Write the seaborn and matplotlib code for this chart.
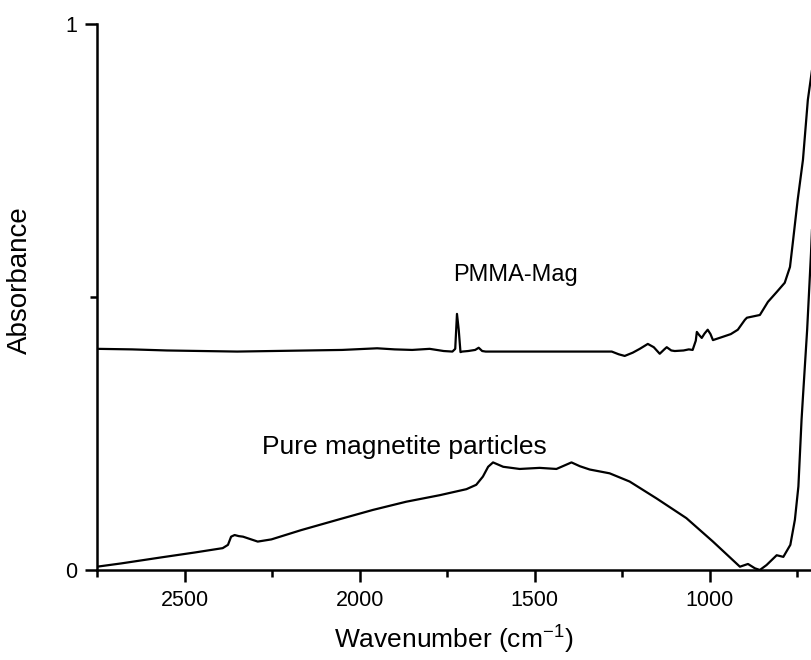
import numpy as np
import pandas as pd
import seaborn as sns
import matplotlib
matplotlib.use("Agg")
import matplotlib.pyplot as plt
from matplotlib.ticker import MultipleLocator, FixedLocator

# PMMA-Mag spectrum (wavenumber, absorbance)
pmma_wn = [2750, 2650, 2550, 2450, 2350, 2250, 2150, 2050, 1950, 1900, 1850, 1800,
           1760, 1735, 1727, 1722, 1717, 1712, 1707, 1690, 1670, 1660, 1650, 1640,
           1500, 1400, 1280, 1260, 1243, 1220, 1200, 1177, 1160, 1143, 1130, 1123,
           1110, 1100, 1075, 1060, 1049, 1040, 1037, 1030, 1023, 1015, 1006, 998,
           991, 963, 940, 920, 900, 894, 857, 834, 809, 786, 771, 763, 749, 734,
           720, 705]
pmma_abs = [0.405, 0.404, 0.402, 0.401, 0.400, 0.401, 0.402, 0.403, 0.406, 0.404, 0.403, 0.405,
            0.401, 0.400, 0.405, 0.469, 0.440, 0.399, 0.400, 0.401, 0.403, 0.407, 0.401, 0.400,
            0.400, 0.400, 0.400, 0.395, 0.392, 0.398, 0.405, 0.414, 0.408, 0.396, 0.404, 0.408,
            0.402, 0.401, 0.402, 0.404, 0.403, 0.420, 0.436, 0.430, 0.425, 0.433, 0.440, 0.432,
            0.421, 0.427, 0.432, 0.440, 0.458, 0.462, 0.467, 0.491, 0.509, 0.526, 0.555, 0.599,
            0.678, 0.751, 0.861, 0.930]

# pure magnetite particles spectrum
mag_wn = [2750, 2681, 2567, 2471, 2391, 2376, 2367, 2357, 2345, 2333, 2319, 2291,
          2252, 2167, 2057, 1962, 1867, 1771, 1695, 1667, 1648, 1633, 1619, 1590,
          1543, 1486, 1438, 1395, 1371, 1343, 1286, 1229, 1152, 1067, 991, 914,
          891, 871, 857, 838, 809, 790, 770, 757, 747, 738, 734, 722, 711, 700]
mag_abs = [0.006, 0.012, 0.023, 0.032, 0.040, 0.046, 0.061, 0.064, 0.062, 0.061, 0.058, 0.052,
           0.056, 0.073, 0.093, 0.110, 0.125, 0.137, 0.148, 0.156, 0.171, 0.189, 0.197, 0.189,
           0.185, 0.187, 0.185, 0.197, 0.190, 0.184, 0.177, 0.162, 0.131, 0.095, 0.052, 0.006,
           0.011, 0.003, 0.000, 0.009, 0.027, 0.024, 0.046, 0.092, 0.153, 0.275, 0.317, 0.440,
           0.580, 0.750]

x_ticks = [2500, 2000, 1500, 1000]
x_ticklabels = ["2500", "2000", "1500", "1000"]
y_ticks = [0, 1]
y_ticklabels = ["0", "1"]

pmma = pd.DataFrame({"wn": pmma_wn, "abs": pmma_abs})
mag = pd.DataFrame({"wn": mag_wn, "abs": mag_abs})

sns.set_style("ticks")
plt.rcParams["font.family"] = ["Liberation Sans", "DejaVu Sans"]
plt.rcParams["text.color"] = "black"
plt.rcParams["axes.labelcolor"] = "black"

fig = plt.figure(figsize=(8.11, 6.60), dpi=100)
ax = fig.add_axes([0.1196, 0.1364, 0.8804, 0.8273])

sns.lineplot(data=pmma, x="wn", y="abs", color="black", lw=1.6, estimator=None, sort=False, ax=ax)
sns.lineplot(data=mag, x="wn", y="abs", color="black", lw=1.6, estimator=None, sort=False, ax=ax)

ax.set_xlim(2750, 711)
ax.set_ylim(0, 1)
ax.xaxis.set_major_locator(FixedLocator(x_ticks))
ax.set_xticklabels(x_ticklabels)
ax.xaxis.set_minor_locator(MultipleLocator(250))
ax.yaxis.set_major_locator(FixedLocator(y_ticks))
ax.set_yticklabels(y_ticklabels)
ax.yaxis.set_minor_locator(FixedLocator([0.5]))

for s in ["top", "right"]:
    ax.spines[s].set_visible(False)
for s in ["left", "bottom"]:
    ax.spines[s].set_linewidth(1.8)
    ax.spines[s].set_color("black")

ax.tick_params(which="major", direction="out", length=8.5, width=1.8, labelsize=15.5, pad=6, colors="black")
ax.tick_params(which="minor", direction="out", length=5, width=1.8, colors="black")

ax.set_xlabel(r"Wavenumber (cm$^{\mathregular{-1}}$)", fontsize=19, labelpad=8)
ax.set_ylabel("Absorbance", fontsize=20)
ax.yaxis.set_label_coords(-0.09, 0.53)

ax.text(1555, 0.54, "PMMA-Mag", fontsize=17, ha="center", va="center")
ax.text(1871, 0.225, "Pure magnetite particles", fontsize=19, ha="center", va="center")

plt.savefig("out.png", dpi=100)
